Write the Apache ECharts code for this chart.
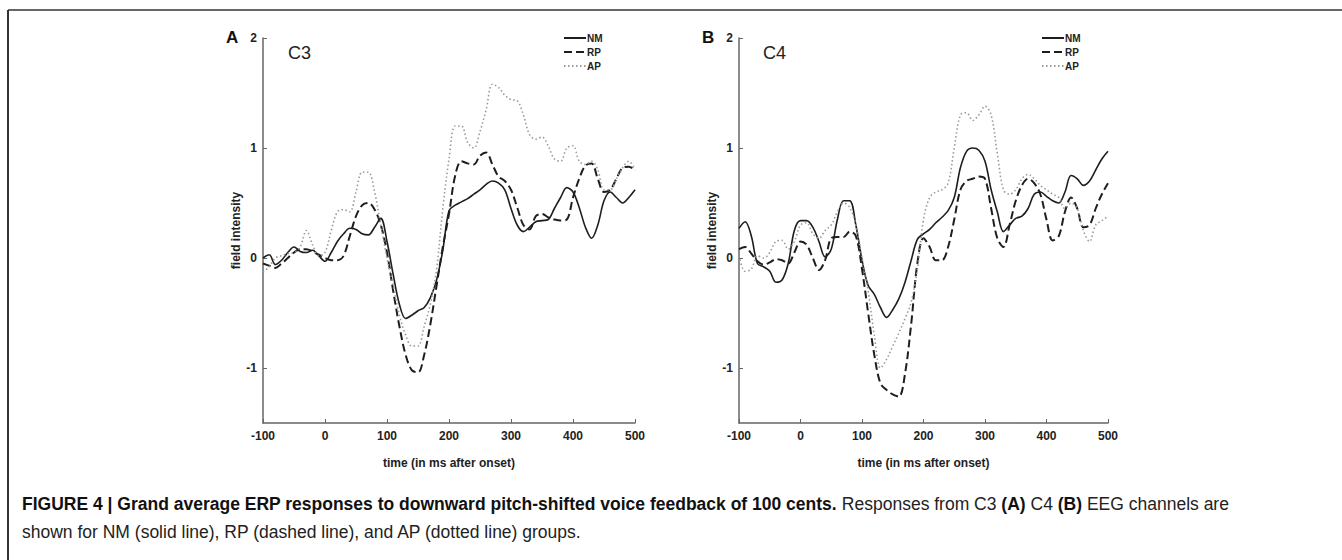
<!DOCTYPE html>
<html>
<head>
<meta charset="utf-8">
<script src="https://cdn.jsdelivr.net/npm/echarts@6/dist/echarts.min.js"></script>
<style>
  html, body { margin: 0; padding: 0; background: #fff; }
  #main { width: 1342px; height: 560px; }
</style>
</head>
<body>
<div id="main"></div>
<script>
// time axis, -100 .. 500 ms every 10 ms
var times = [];
for (var t = -100; t <= 500; t += 10) { times.push(t); }

var xTicks = [-100, 0, 100, 200, 300, 400, 500];
var yTicks = [-1, 0, 1, 2];

// C3 (panel A)
var nmC3 = [0.0, 0.03, -0.06, -0.02, 0.05, 0.1, 0.06, 0.05, 0.07, 0.02,
    -0.03, 0.05, 0.15, 0.22, 0.27, 0.26, 0.22, 0.21, 0.28, 0.36,
    0.15, -0.15, -0.42, -0.55, -0.52, -0.48, -0.45, -0.36, -0.2, 0.07,
    0.43, 0.48, 0.51, 0.54, 0.58, 0.62, 0.67, 0.7, 0.68, 0.62,
    0.45, 0.3, 0.24, 0.28, 0.33, 0.34, 0.35, 0.45, 0.55, 0.64,
    0.6, 0.46, 0.28, 0.18, 0.3, 0.52, 0.6, 0.55, 0.5, 0.55, 0.62];
var rpC3 = [-0.05, -0.07, -0.09, -0.05, 0.0, 0.05, 0.08, 0.08, 0.06, 0.03,
    0.0, -0.02, -0.02, 0.02, 0.2, 0.38, 0.48, 0.5, 0.44, 0.3,
    0.05, -0.3, -0.62, -0.88, -1.02, -1.04, -0.88, -0.6, -0.25, 0.1,
    0.4, 0.75, 0.88, 0.86, 0.85, 0.93, 0.96, 0.85, 0.74, 0.7,
    0.62, 0.46, 0.3, 0.26, 0.38, 0.4, 0.37, 0.35, 0.34, 0.35,
    0.55, 0.72, 0.84, 0.86, 0.72, 0.6, 0.62, 0.72, 0.82, 0.83, 0.8];
var apC3 = [-0.13, -0.08, 0.0, 0.02, 0.04, 0.05, 0.1, 0.25, 0.12, 0.02,
    0.05, 0.25, 0.42, 0.44, 0.42, 0.6, 0.78, 0.78, 0.6, 0.3,
    0.0, -0.25, -0.52, -0.7, -0.8, -0.8, -0.62, -0.42, -0.1, 0.45,
    0.9, 1.2, 1.2, 1.05, 1.0, 1.15, 1.35, 1.58, 1.55, 1.48,
    1.44, 1.43, 1.3, 1.12, 1.08, 1.1, 1.02, 0.9, 0.88, 1.0,
    1.02, 0.88, 0.85, 0.88, 0.8, 0.62, 0.62, 0.72, 0.82, 0.88, 0.8];

// C4 (panel B)
var nmC4 = [0.27, 0.33, 0.2, -0.05, -0.08, -0.12, -0.22, -0.2, -0.05, 0.25,
    0.34, 0.34, 0.28, 0.15, 0.01, 0.08, 0.35, 0.52, 0.52, 0.3,
    -0.02, -0.25, -0.33, -0.45, -0.54, -0.47, -0.37, -0.22, -0.02, 0.17,
    0.22, 0.26, 0.32, 0.37, 0.43, 0.55, 0.82, 0.97, 1.0, 0.98,
    0.88, 0.62, 0.42, 0.24, 0.3, 0.36, 0.38, 0.45, 0.58, 0.6,
    0.56, 0.52, 0.5, 0.6, 0.75, 0.72, 0.66, 0.7, 0.8, 0.9, 0.97];
var rpC4 = [0.08, 0.1, 0.04, -0.03, -0.06, -0.04, -0.01, -0.02, -0.05, 0.05,
    0.15, 0.12, 0.0, -0.11, -0.02, 0.18, 0.19, 0.19, 0.24, 0.2,
    -0.1, -0.5, -0.88, -1.14, -1.2, -1.24, -1.26, -1.05, -0.6, -0.05,
    0.18, 0.1, -0.02, -0.02, 0.1, 0.35, 0.62, 0.7, 0.72, 0.74,
    0.72, 0.45, 0.18, 0.1, 0.3, 0.52, 0.66, 0.72, 0.68, 0.58,
    0.35, 0.16, 0.2, 0.42, 0.55, 0.45, 0.28, 0.3, 0.45, 0.58, 0.68];
var apC4 = [0.02, -0.12, -0.1, 0.02, 0.0, 0.05, 0.15, 0.16, 0.08, 0.15,
    0.3, 0.32, 0.22, 0.18, 0.25, 0.3, 0.42, 0.5, 0.46, 0.3,
    0.0, -0.3, -0.7, -1.0, -0.92, -0.8, -0.68, -0.55, -0.4, -0.1,
    0.35, 0.55, 0.6, 0.62, 0.68, 1.0, 1.3, 1.32, 1.25, 1.3,
    1.38, 1.3, 0.95, 0.62, 0.58, 0.62, 0.72, 0.76, 0.72, 0.66,
    0.62, 0.58, 0.55, 0.45, 0.5, 0.45, 0.25, 0.15, 0.3, 0.34, 0.38];

function pairs(vals) {
    var out = [];
    for (var i = 0; i < times.length; i++) { out.push([times[i], vals[i]]); }
    return out;
}

var axisColor = '#666';
var labelFont = 'Liberation Sans, Arial, sans-serif';

function xAxis(idx) {
    return {
        type: 'value', gridIndex: idx, min: -100, max: 500, interval: 100,
        name: 'time (in ms after onset)', nameLocation: 'middle', nameGap: 34,
        nameTextStyle: { color: '#222', fontSize: 12, fontWeight: 'bold', fontFamily: labelFont },
        axisLine: { show: true, onZero: false, lineStyle: { color: axisColor, width: 1.5 } },
        axisTick: { show: true, inside: true, length: 4, lineStyle: { color: axisColor } },
        axisLabel: { color: '#222', fontSize: 12, fontWeight: 'bold', fontFamily: labelFont, margin: 7,
            customValues: xTicks },
        splitLine: { show: false }
    };
}
function yAxis(idx) {
    return {
        type: 'value', gridIndex: idx, min: -1.5, max: 2,
        name: 'field intensity', nameLocation: 'middle', nameGap: 21,
        nameTextStyle: { color: '#222', fontSize: 12, fontWeight: 'bold', fontFamily: labelFont },
        axisLine: { show: true, onZero: false, lineStyle: { color: axisColor, width: 1.5 } },
        axisTick: { show: true, inside: true, length: 4, lineStyle: { color: axisColor }, customValues: yTicks },
        axisLabel: { color: '#222', fontSize: 12, fontWeight: 'bold', fontFamily: labelFont, margin: 6,
            customValues: yTicks },
        splitLine: { show: false }
    };
}

function line(name, vals, idx, style) {
    return {
        name: name, type: 'line', xAxisIndex: idx, yAxisIndex: idx,
        data: pairs(vals), showSymbol: false, symbol: 'none', smooth: 0.35,
        itemStyle: { color: style.color },
        lineStyle: style, animation: false
    };
}
var nmStyle = { color: '#1e1e1e', width: 1.6, type: 'solid' };
var rpStyle = { color: '#1e1e1e', width: 2, type: [8, 4] };
var apStyle = { color: '#9a9a9a', width: 1.6, type: [1.5, 2.5] };

function legend(left) {
    return {
        data: ['NM', 'RP', 'AP'], orient: 'vertical', left: left, top: 28,
        itemWidth: 22, itemHeight: 10, itemGap: 4, selectedMode: false,
        itemStyle: { opacity: 0 },
        textStyle: { color: '#222', fontSize: 10, fontWeight: 'bold', fontFamily: labelFont, padding: [0, 0, 0, -4] }
    };
}

var chart = echarts.init(document.getElementById('main'), null, { renderer: 'svg' });
chart.setOption({
    backgroundColor: '#fff',
    animation: false,
    grid: [
        { left: 263, top: 38, width: 372, height: 385 },
        { left: 739, top: 38, width: 369, height: 385 }
    ],
    xAxis: [xAxis(0), xAxis(1)],
    yAxis: [yAxis(0), yAxis(1)],
    legend: [legend(558), legend(1036)],
    series: [
        line('NM', nmC3, 0, nmStyle),
        line('RP', rpC3, 0, rpStyle),
        line('AP', apC3, 0, apStyle),
        line('NM', nmC4, 1, nmStyle),
        line('RP', rpC4, 1, rpStyle),
        line('AP', apC4, 1, apStyle)
    ],
    graphic: [
        // figure frame (top + left)
        { type: 'line', shape: { x1: 8, y1: 10, x2: 1342, y2: 10 }, style: { stroke: '#666', lineWidth: 2 } },
        { type: 'line', shape: { x1: 8, y1: 10, x2: 8, y2: 560 }, style: { stroke: '#333', lineWidth: 2 } },
        // panel letters and channel names
        { type: 'text', left: 226, top: 29, style: { text: 'A', font: 'bold 17px ' + labelFont, fill: '#111' } },
        { type: 'text', left: 288, top: 44, style: { text: 'C3', font: '18px ' + labelFont, fill: '#222' } },
        { type: 'text', left: 702, top: 29, style: { text: 'B', font: 'bold 17px ' + labelFont, fill: '#111' } },
        { type: 'text', left: 763, top: 44, style: { text: 'C4', font: '18px ' + labelFont, fill: '#222' } },
        // caption
        {
            type: 'text', left: 22, top: 490,
            style: {
                text: '{b|FIGURE 4 | Grand average ERP responses to downward pitch-shifted voice feedback of 100 cents.} ' +
                    'Responses from C3 {b|(A)} C4 {b|(B)} EEG channels are\nshown for NM (solid line), RP (dashed line), and AP (dotted line) groups.',
                font: '17.5px ' + labelFont, fill: '#222', lineHeight: 28,
                rich: { b: { font: 'bold 17.5px ' + labelFont, fill: '#111' } }
            }
        }
    ]
});
</script>
</body>
</html>
